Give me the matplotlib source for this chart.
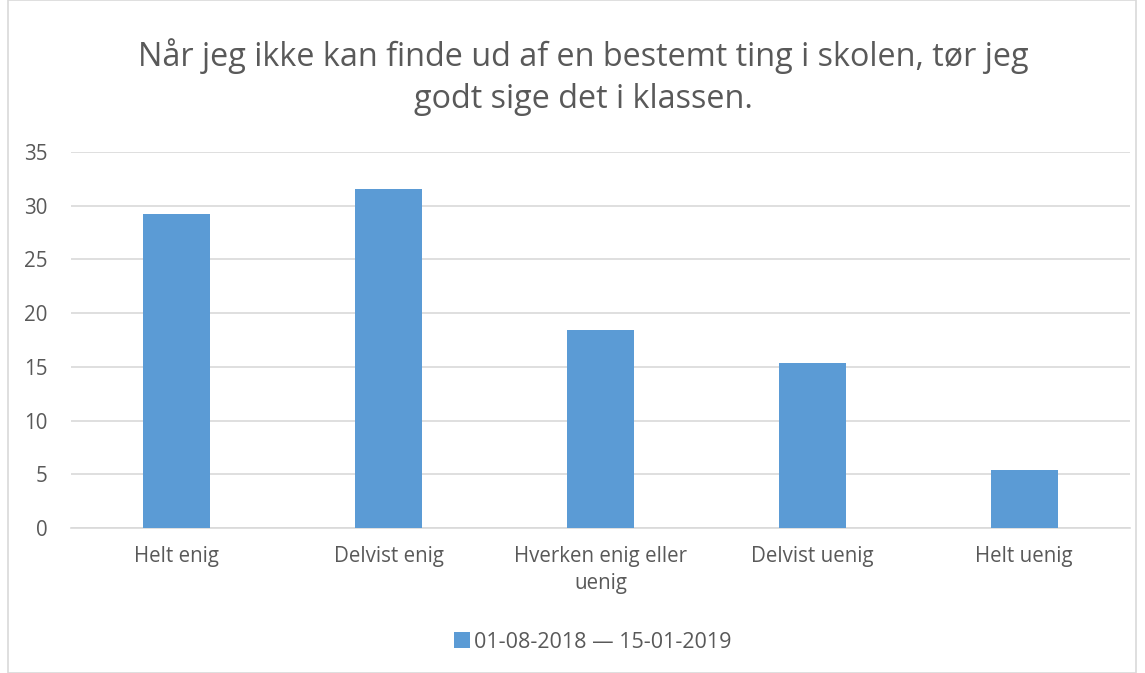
import numpy as np
import matplotlib
matplotlib.use("Agg")
import matplotlib.pyplot as plt
from matplotlib.patches import Rectangle

# data
categories = ["Helt enig", "Delvist enig", "Hverken enig eller\nuenig", "Delvist uenig", "Helt uenig"]
values = [29.23, 31.54, 18.46, 15.38, 5.38]
series_label = "01-08-2018 \u2014 15-01-2019"
title = "Når jeg ikke kan finde ud af en bestemt ting i skolen, tør jeg\ngodt sige det i klassen."
yticks = [0, 5, 10, 15, 20, 25, 30, 35]

plt.rcParams['font.family'] = ['Open Sans', 'DejaVu Sans']
text_col = '#595959'
bar_col = '#5b9bd5'

fig = plt.figure(figsize=(11.45, 6.73), dpi=100)
ax = fig.add_axes([71/1145, 1-528/673, (1130-71)/1145, (528-152)/673])

x = np.arange(len(categories))
ax.bar(x, values, width=0.316, color=bar_col, label=series_label, zorder=3)

ax.set_xlim(-0.5, len(categories)-0.5)
ax.set_ylim(0, 35)
ax.set_yticks(yticks)
ax.set_xticks(x)
ax.set_xticklabels(categories, fontsize=14.8, color=text_col, linespacing=1.4)
ax.tick_params(axis='y', labelsize=14.8, labelcolor=text_col, length=0, pad=17)
ax.tick_params(axis='x', length=0, pad=13)
ax.grid(axis='y', color='#d9d9d9', linewidth=1.2, zorder=0)
for s in ['top', 'right', 'left']:
	ax.spines[s].set_visible(False)
ax.spines['bottom'].set_color('#d9d9d9')
ax.spines['bottom'].set_linewidth(1.2)

fig.text(583/1145, 1-77/673, title, ha='center', va='center', fontsize=23.3,
	color=text_col, linespacing=1.35)

leg = fig.legend(loc='center', bbox_to_anchor=(593/1145, 1-642/673), frameon=False,
	fontsize=15.5, handlelength=0.75, handleheight=0.75, handletextpad=0.2)
for t in leg.get_texts():
	t.set_color(text_col)

fig.patches.append(Rectangle((8/1145, 0), 1-9/1145-8/1145, 1, transform=fig.transFigure,
	fill=False, edgecolor='#d9d9d9', linewidth=1.2))

fig.savefig("out.png", dpi=100, facecolor='white')
